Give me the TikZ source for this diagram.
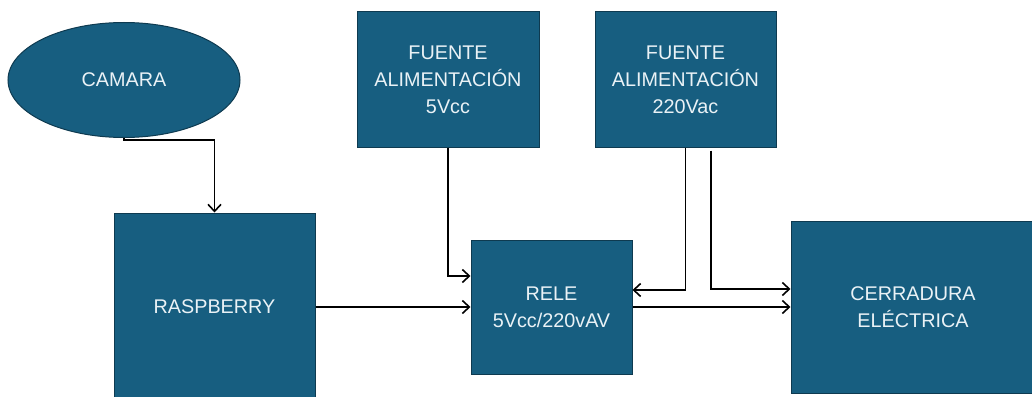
\documentclass[tikz,border=0pt]{standalone}
\usepackage{fontspec}
\setmainfont{Liberation Sans}
\usetikzlibrary{shapes.geometric,arrows.meta}
\definecolor{boxblue}{HTML}{175E80}
\definecolor{boxedge}{HTML}{0E3A50}
\definecolor{boxtext}{HTML}{EAF2F6}
\tikzset{
  blk/.style={draw=boxedge, line width=1pt, fill=boxblue, text=boxtext, inner sep=0pt, align=center,
              font=\fontsize{19.8}{27}\selectfont},
  arr/.style={line width=1.8pt, -{Straight Barb[length=7pt,width=13pt,line width=1.6pt]}},
}
\begin{document}
\begin{tikzpicture}[x=1pt,y=-1pt]
\useasboundingbox (0,0) rectangle (1032,396);
\node[blk, ellipse, minimum width=232pt, minimum height=115pt] (cam) at (124,80) {CAMARA};
\node[blk, rectangle, minimum width=201pt, minimum height=188pt] (ras) at (214.5,307) {RASPBERRY};
\node[blk, rectangle, minimum width=182pt, minimum height=135pt] (f5) at (448,79.5) {FUENTE\\ALIMENTACIÓN\\5Vcc};
\node[blk, rectangle, minimum width=181pt, minimum height=135pt] (f220) at (685.5,79.5) {FUENTE\\ALIMENTACIÓN\\220Vac};
\node[blk, rectangle, minimum width=161pt, minimum height=134pt] (rele) at (551.5,307) {RELE\\5Vcc/220vAV};
\node[blk, rectangle, minimum width=244pt, minimum height=172pt] (cer) at (913,307) {CERRADURA\\ELÉCTRICA};
\coordinate (k1) at (124,140);
\draw[arr] (cam.south) -- (k1) -| (ras.north);
\draw[arr] (f5.south) |- ([yshift=31pt]rele.west);
\draw[arr] (ras.east) -- (rele.west);
\draw[arr] (f220.south) |- ([yshift=17pt]rele.east);
\draw[arr] ([xshift=25.5pt,yshift=-3pt]f220.south) |- ([yshift=18pt]cer.west);
\draw[arr] (rele.east) -- (cer.west);
\end{tikzpicture}
\end{document}
